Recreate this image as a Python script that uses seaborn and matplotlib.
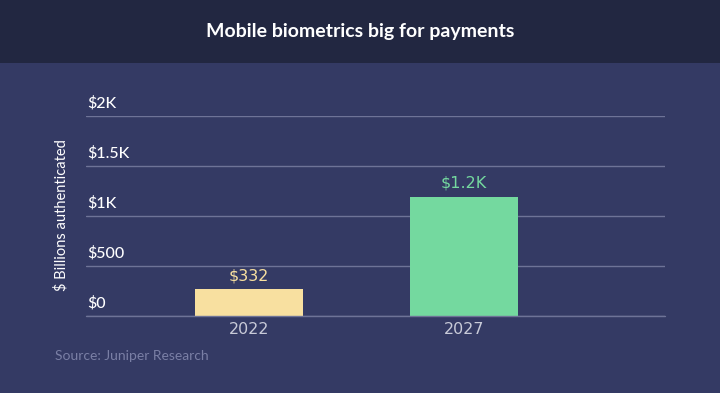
import matplotlib
matplotlib.use("Agg")
import matplotlib.pyplot as plt
import matplotlib.transforms as mtransforms
import seaborn as sns
import pandas as pd

# Data
years = ["2022", "2027"]
values = [270, 1195]           # bar heights as drawn ($ billions)
value_labels = ["$332", "$1.2K"]
bar_colors = ["#F8E0A0", "#74D99F"]
y_ticks = [0, 500, 1000, 1500, 2000]
y_tick_labels = ["$0", "$500", "$1K", "$1.5K", "$2K"]

bg = "#343A64"
header = "#222741"
grid = "#6E7397"

sns.set_theme(style="white")
plt.rcParams["font.family"] = ["Lato", "DejaVu Sans"]

df = pd.DataFrame({"year": years, "value": values})

fig = plt.figure(figsize=(7.2, 3.93), dpi=100)
fig.patch.set_facecolor(bg)

# header band
fig.add_artist(plt.Rectangle((0, 1 - 63 / 393), 1, 63 / 393, transform=fig.transFigure,
                             facecolor=header, edgecolor="none", zorder=0))
fig.text(0.5, 1 - 31 / 393, "Mobile biometrics big for payments", ha="center", va="center",
         color="white", fontsize=14, fontweight="bold")

ax = fig.add_axes([86 / 720, 1 - 316 / 393, 579 / 720, 200 / 393])
ax.set_facecolor(bg)
sns.barplot(data=df, x="year", y="value", hue="year", palette=bar_colors,
            width=0.5, legend=False, ax=ax, saturation=1, linewidth=0)

ax.set_xlim(-0.758, 1.935)
ax.set_ylim(0, 2000)
for s in ax.spines.values():
    s.set_visible(False)

ax.set_yticks(y_ticks)
ax.set_yticklabels([])
ax.tick_params(axis="y", length=0)
ax.yaxis.grid(True, color=grid, linewidth=1)
ax.set_axisbelow(True)
# baseline sits on the axes edge, draw it unclipped so it is full width
ax.axhline(0, color=grid, linewidth=1, clip_on=False, zorder=3)

trans = mtransforms.blended_transform_factory(ax.transAxes, ax.transData)
for v, lab in zip(y_ticks, y_tick_labels):
    ax.annotate(lab, xy=(0.003, v), xycoords=trans, xytext=(0, 4), textcoords="offset points",
                ha="left", va="bottom", color="white", fontsize=11.5, fontweight="medium")

ax.tick_params(axis="x", length=0, pad=4, labelsize=11.5, labelcolor="#C8CAD8")
for t in ax.get_xticklabels():
    t.set_fontfamily("DejaVu Sans")
ax.set_xlabel("")
ax.set_ylabel("")

for i, (v, lab) in enumerate(zip(values, value_labels)):
    ax.annotate(lab, xy=(i, v), xytext=(0, 4), textcoords="offset points", ha="center",
                va="bottom", color=bar_colors[i], fontsize=11.5, family="DejaVu Sans")

fig.text(61 / 720, 1 - 215 / 393, "$ Billions authenticated", rotation=90, ha="center",
         va="center", color="white", fontsize=10.5)
fig.text(55 / 720, 1 - 356 / 393, "Source: Juniper Research", ha="left", va="center",
         color="#7A7FA5", fontsize=10)

fig.savefig("out.png", dpi=100, facecolor=bg)
